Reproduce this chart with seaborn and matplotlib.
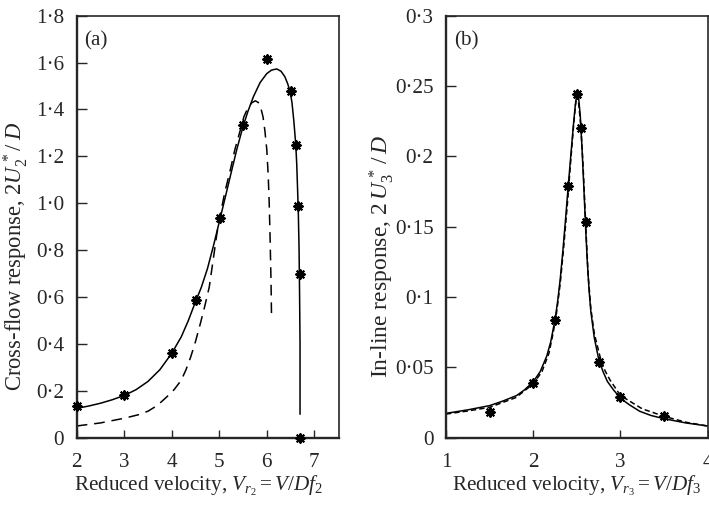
import matplotlib
matplotlib.use("Agg")
import matplotlib.pyplot as plt
import seaborn as sns

# ---------------- data ----------------
# Panel (a): cross-flow
a_pts_x = [2.0, 3.0, 4.0, 4.51, 5.02, 5.5, 6.0, 6.5, 6.61, 6.66, 6.69, 6.70]
a_pts_y = [0.135, 0.183, 0.36, 0.586, 0.938, 1.332, 1.615, 1.478, 1.248, 0.988, 0.70, 0.0]

a_solid_x = [2.0, 2.25, 2.5, 2.75, 3.0, 3.25, 3.5, 3.75, 4.0, 4.2, 4.35, 4.5, 4.62,
             4.75, 4.88, 5.0, 5.12, 5.25, 5.37, 5.49, 5.6, 5.72, 5.86, 6.0, 6.1,
             6.21, 6.3, 6.38, 6.44, 6.49, 6.53, 6.57, 6.61, 6.63, 6.65, 6.665, 6.68,
             6.69, 6.70, 6.70]
a_solid_y = [0.125, 0.135, 0.147, 0.162, 0.18, 0.205, 0.24, 0.29, 0.36, 0.43, 0.50,
             0.58, 0.64, 0.72, 0.82, 0.92, 1.02, 1.13, 1.23, 1.32, 1.39, 1.455, 1.515,
             1.553, 1.568, 1.573, 1.563, 1.54, 1.51, 1.477, 1.43, 1.35, 1.25, 1.17,
             1.05, 0.95, 0.80, 0.62, 0.40, 0.10]

a_dash_x = [2.0, 2.5, 3.0, 3.3, 3.5, 3.7, 3.9, 4.05, 4.2, 4.3, 4.4, 4.5, 4.6, 4.7,
            4.79, 4.88, 4.95, 5.02, 5.12, 5.23, 5.33, 5.44, 5.52, 5.6, 5.68, 5.76,
            5.82, 5.87, 5.92, 5.96, 6.0, 6.03, 6.05, 6.07, 6.09, 6.10]
a_dash_y = [0.05, 0.063, 0.083, 0.098, 0.113, 0.138, 0.175, 0.205, 0.245, 0.29,
            0.345, 0.41, 0.485, 0.565, 0.643, 0.77, 0.87, 0.95, 1.05, 1.14, 1.23,
            1.31, 1.37, 1.405, 1.428, 1.437, 1.43, 1.41, 1.37, 1.31, 1.23, 1.12,
            1.01, 0.85, 0.66, 0.515]

a_yticks = [0, 0.2, 0.4, 0.6, 0.8, 1.0, 1.2, 1.4, 1.6, 1.8]
a_ylabels = ["0", "0·2", "0·4", "0·6", "0·8", "1·0", "1·2", "1·4", "1·6", "1·8"]
a_xticks = [2, 3, 4, 5, 6, 7]

# Panel (b): in-line
b_pts_x = [1.5, 2.0, 2.25, 2.4, 2.5, 2.55, 2.6, 2.75, 3.0, 3.5]
b_pts_y = [0.0185, 0.039, 0.084, 0.179, 0.244, 0.22, 0.153, 0.054, 0.029, 0.0157]

b_solid_x = [1.0, 1.25, 1.5, 1.65, 1.81, 1.9, 2.0, 2.08, 2.155, 2.2, 2.25, 2.28,
             2.31, 2.34, 2.37, 2.40, 2.43, 2.46, 2.48, 2.50, 2.52, 2.54, 2.56, 2.58,
             2.60, 2.62, 2.64, 2.66, 2.70, 2.75, 2.80, 2.85, 2.92, 3.0, 3.1, 3.22,
             3.35, 3.5, 3.75, 4.0]
b_solid_y = [0.0173, 0.0198, 0.0228, 0.026, 0.030, 0.034, 0.0398, 0.047, 0.058,
             0.068, 0.084, 0.097, 0.113, 0.133, 0.155, 0.178, 0.200, 0.222, 0.235,
             0.245, 0.242, 0.228, 0.205, 0.178, 0.150, 0.125, 0.105, 0.090, 0.071,
             0.056, 0.047, 0.040, 0.034, 0.028, 0.0235, 0.0188, 0.0158, 0.0135,
             0.0105, 0.0083]

b_dash_x = [1.0, 1.25, 1.5, 1.8, 2.0, 2.1, 2.18, 2.23, 2.27, 2.31, 2.35, 2.39, 2.43,
            2.46, 2.485, 2.50, 2.52, 2.545, 2.57, 2.59, 2.61, 2.63, 2.66, 2.70, 2.766,
            2.82, 2.88, 3.0, 3.25, 3.5, 3.75, 4.0]
b_dash_y = [0.0168, 0.019, 0.0216, 0.0285, 0.0382, 0.047, 0.060, 0.075, 0.090,
            0.11, 0.136, 0.165, 0.197, 0.22, 0.237, 0.243, 0.238, 0.222, 0.195,
            0.168, 0.14, 0.115, 0.092, 0.074, 0.0576, 0.048, 0.041, 0.030, 0.0205,
            0.0152, 0.011, 0.0083]

b_yticks = [0, 0.05, 0.1, 0.15, 0.2, 0.25, 0.3]
b_ylabels = ["0", "0·05", "0·1", "0·15", "0·2", "0·25", "0·3"]
b_xticks = [1, 2, 3, 4]

# ---------------- style ----------------
sns.set_style("ticks")
plt.rcParams["font.family"] = ["Liberation Serif", "DejaVu Serif"]
plt.rcParams["mathtext.fontset"] = "custom"
plt.rcParams["mathtext.rm"] = "Liberation Serif"
plt.rcParams["mathtext.it"] = "Liberation Serif:italic"
plt.rcParams["mathtext.bf"] = "Liberation Serif:bold"
FS = 15.2
FSY = 16.3
FSY_B = 17.0

fig = plt.figure(figsize=(7.09, 5.07), dpi=100)
ax_a = fig.add_axes([76.7 / 709, 1 - 437.7 / 507, (339 - 76.7) / 709, (437.7 - 15.7) / 507])
ax_b = fig.add_axes([446 / 709, 1 - 437.7 / 507, (707.7 - 446) / 709, (437.7 - 15.7) / 507])


def draw(ax, sx, sy, dx, dy, px, py, dashes, lw):
    sns.lineplot(x=sx, y=sy, ax=ax, color="black", lw=lw, sort=False, estimator=None)
    sns.lineplot(x=dx, y=dy, ax=ax, color="black", lw=lw, sort=False, estimator=None,
                 linestyle=(0, dashes))
    sns.scatterplot(x=px, y=py, ax=ax, marker=(8, 2, 0), s=38, color="black",
                    linewidth=1.5, zorder=5, clip_on=False)


draw(ax_a, a_solid_x, a_solid_y, a_dash_x, a_dash_y, a_pts_x, a_pts_y, (7, 4.5), 1.1)
draw(ax_b, b_solid_x, b_solid_y, b_dash_x, b_dash_y, b_pts_x, b_pts_y, (3.5, 2), 1.1)

for ax in (ax_a, ax_b):
    for side in ("left", "bottom"):
        ax.spines[side].set_linewidth(1.7)
    for side in ("top", "right"):
        ax.spines[side].set_linewidth(1.2)
        ax.spines[side].set_visible(True)
    ax.tick_params(axis="both", direction="in", labelsize=FS, width=1.0,
                   top=False, right=False)
    ax.tick_params(axis="y", length=7, pad=9)
    ax.tick_params(axis="x", length=6, pad=11)

ax_a.set_xlim(2, 7.52)
ax_a.set_ylim(0, 1.8)
ax_a.set_xticks(a_xticks)
ax_a.set_yticks(a_yticks)
ax_a.set_yticklabels(a_ylabels)
ax_a.set_xlabel(r"Reduced velocity, $V_{r_2} = V/Df_2$", fontsize=FS)
ax_a.set_ylabel(r"Cross-flow response, $2U_2^{\,*}/\;D$", fontsize=FSY)
ax_a.text(0.03, 0.94, "(a)", transform=ax_a.transAxes, fontsize=FS, va="center", ha="left")

ax_b.set_xlim(1, 4)
ax_b.set_ylim(0, 0.3)
ax_b.set_xticks(b_xticks)
ax_b.set_yticks(b_yticks)
ax_b.set_yticklabels(b_ylabels)
ax_b.set_xlabel(r"Reduced velocity, $V_{r_3} = V/Df_3$", fontsize=FS)
ax_b.set_ylabel(r"In-line response, $2\,U_3^{\,*}\,/\,D$", fontsize=FSY_B)
ax_b.text(0.03, 0.94, "(b)", transform=ax_b.transAxes, fontsize=FS, va="center", ha="left")

ax_a.yaxis.set_label_coords(-0.177, 0.43)
ax_b.yaxis.set_label_coords(-0.19, 0.43)
ax_a.xaxis.set_label_coords(0.466, -0.085)
ax_b.xaxis.set_label_coords(0.5, -0.085)

fig.savefig("out.png", dpi=100)
